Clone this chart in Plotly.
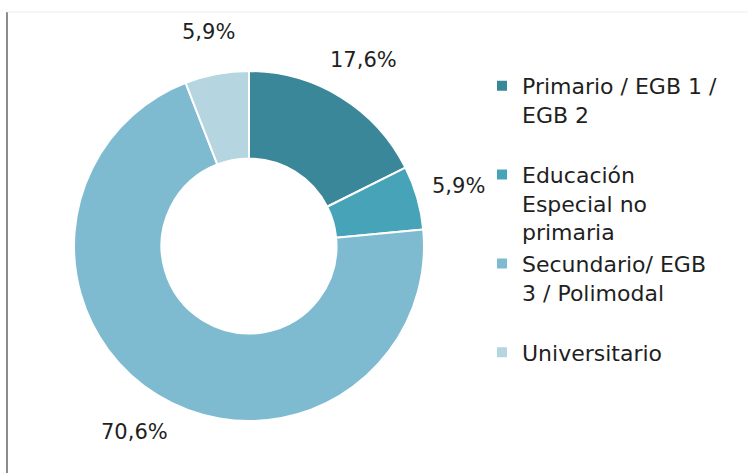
import math
import plotly.graph_objects as go

# Nivel educativo: porcentaje de casos
categories = [
    "Primario / EGB 1 /<br>EGB 2<br> ",
    "Educación<br>Especial no<br>primaria",
    "Secundario/ EGB<br>3 / Polimodal<br> ",
    "Universitario",
]
shares = [17.6, 5.9, 70.6, 5.9]
colors = ["#3a8799", "#47a3b8", "#7fbbd0", "#b5d5e0"]

W, H = 748, 473
cx, cy, radius = 249, 246, 175
label_r = 218  # distance of the value labels from the centre, px

fig = go.Figure(
    go.Pie(
        labels=categories,
        values=shares,
        sort=False,
        direction="clockwise",
        rotation=0,
        hole=0.5,
        marker=dict(colors=colors, line=dict(color="white", width=2)),
        textinfo="none",
        hoverinfo="label+value",
        domain=dict(
            x=[(cx - radius) / W, (cx + radius) / W],
            y=[1 - (cy + radius) / H, 1 - (cy - radius) / H],
        ),
    )
)

# Value labels placed outside each slice along its mid-angle
total = sum(shares)
cum = 0.0
annotations = []
for v in shares:
    theta = 2 * math.pi * (cum + v / 2) / total
    cum += v
    px = cx + label_r * math.sin(theta)
    py = cy - label_r * math.cos(theta)
    annotations.append(dict(
        x=px / W, y=1 - py / H, xref="paper", yref="paper",
        text=f"{v:.1f}".replace(".", ",") + "%",
        showarrow=False, xanchor="center", yanchor="middle",
        font=dict(family="DejaVu Sans", size=21, color="#1f1f1f"),
    ))

fig.update_layout(
    width=W,
    height=H,
    margin=dict(l=0, r=0, t=0, b=0),
    paper_bgcolor="white",
    showlegend=True,
    legend=dict(
        x=482 / W,
        y=1 - 65 / H,
        xanchor="left",
        yanchor="top",
        valign="top",
        font=dict(family="DejaVu Sans", size=22, color="#1f1f1f"),
        bgcolor="rgba(0,0,0,0)",
    ),
    annotations=annotations,
    shapes=[
        dict(type="line", xref="paper", yref="paper",
             x0=7 / W, x1=7 / W, y0=0, y1=1 - 12 / H,
             line=dict(color="#8c8c8c", width=2)),
        dict(type="line", xref="paper", yref="paper",
             x0=7 / W, x1=1, y0=1 - 12 / H, y1=1 - 12 / H,
             line=dict(color="#ececec", width=1)),
    ],
)

fig.write_html("out.html")
